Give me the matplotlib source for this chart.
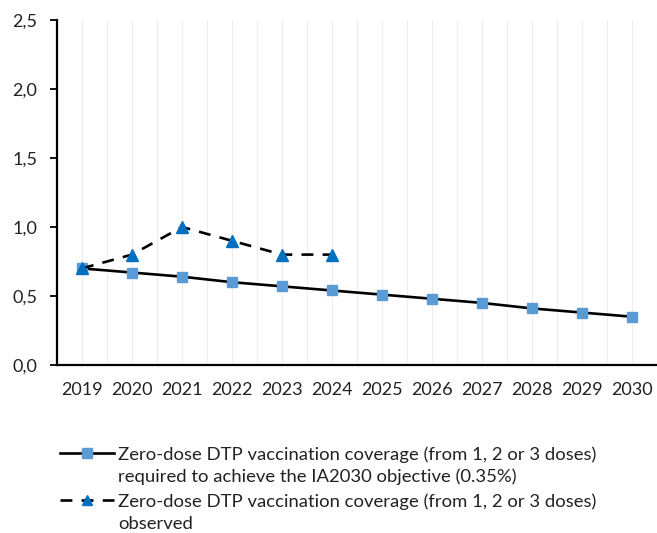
import matplotlib.pyplot as plt
import numpy as np

plt.rcParams['font.family'] = ['Lato', 'DejaVu Sans']

years = [2019, 2020, 2021, 2022, 2023, 2024, 2025, 2026, 2027, 2028, 2029, 2030]
required = [0.70, 0.67, 0.64, 0.60, 0.57, 0.54, 0.51, 0.48, 0.45, 0.41, 0.38, 0.35]
obs_years = [2019, 2020, 2021, 2022, 2023, 2024]
observed = [0.7, 0.8, 1.0, 0.9, 0.8, 0.8]
yticks = [0.0, 0.5, 1.0, 1.5, 2.0, 2.5]

label_req = ["Zero-dose DTP vaccination coverage (from 1, 2 or 3 doses)",
             "required to achieve the IA2030 objective (0.35%)"]
label_obs = ["Zero-dose DTP vaccination coverage (from 1, 2 or 3 doses)",
             "observed"]

W, H = 657, 533
fig = plt.figure(figsize=(W / 100, H / 100), dpi=100)
ax = fig.add_axes([57 / W, 1 - 365 / H, 1 - 57 / W, 345 / H])

x = np.arange(len(years))
ox = np.arange(len(obs_years))

# faint vertical gridlines every half category
for g in np.arange(-0.5, len(years), 0.5):
    ax.axvline(g, color='#ededed', lw=0.8, zorder=0)

ax.plot(x, required, color='black', lw=1.9, marker='s', markersize=7.5,
        markerfacecolor='#5b9bd5', markeredgecolor='#5b9bd5', label=label_req[0], zorder=3)
ax.plot(ox, observed, color='black', lw=1.9, ls=(0, (4.5, 3.5)), marker='^', markersize=8,
        markerfacecolor='#0070c0', markeredgecolor='#0070c0', label=label_obs[0], zorder=4)

ax.set_xlim(-0.5, len(years) - 0.5)
ax.set_ylim(0, 2.5)
ax.set_yticks(yticks)
ax.set_yticklabels([f"{t:.1f}".replace('.', ',') for t in yticks])
ax.set_xticks(x)
ax.set_xticklabels([str(y) for y in years])
ax.tick_params(axis='x', length=0, pad=12, labelsize=13, labelcolor='#222222')
ax.tick_params(axis='y', length=5, width=1.3, pad=9, labelsize=13, labelcolor='#222222', color='black')
for s in ['top', 'right']:
    ax.spines[s].set_visible(False)
for s in ['left', 'bottom']:
    ax.spines[s].set_linewidth(1.6)
    ax.spines[s].set_color('black')

leg = fig.legend(loc='upper left', bbox_to_anchor=(60 / W, 1 - 446 / H), frameon=False,
                 fontsize=13.3, handlelength=2.9, handletextpad=0.25, labelspacing=1.65,
                 borderaxespad=0, borderpad=0)
for h in leg.legend_handles:
    h.set_markersize(6.5)
for t in leg.get_texts():
    t.set_color('#222222')

# second line of each legend entry, sitting under the first
fig.canvas.draw()
renderer = fig.canvas.get_renderer()
for t, lines in zip(leg.get_texts(), [label_req, label_obs]):
    bb = t.get_window_extent(renderer)
    fig.text(bb.x0 / W, (bb.y0 - 22.5) / H, lines[1], fontsize=13.3, color='#222222',
             ha='left', va='bottom')

fig.savefig('out.png', dpi=100)
